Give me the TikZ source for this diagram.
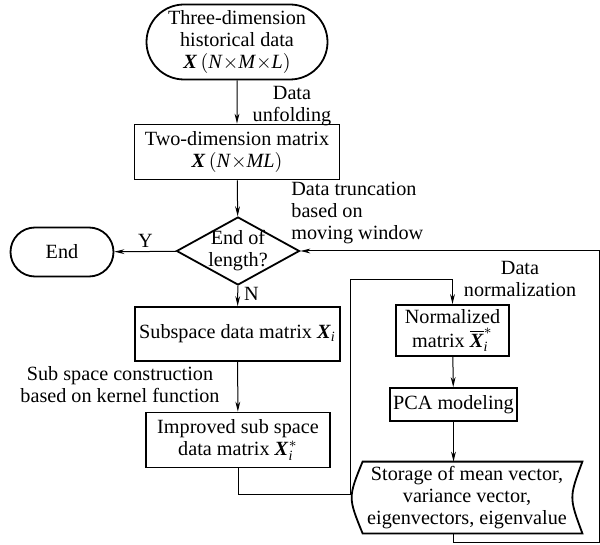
\documentclass[tikz,border=0pt]{standalone}
\usepackage{amsmath}
\usepackage{fontspec}
\setmainfont{Liberation Serif}
\usetikzlibrary{shapes.geometric,shapes.misc,arrows.meta}
\newcommand{\bX}{\text{\textbf{\textit{X}}}}
\newcommand{\ti}[1]{\text{\textit{#1}}}

\begin{document}
\begin{tikzpicture}[x=0.5pt,y=-0.5pt,
	font=\fontsize{10.1}{11}\selectfont,
	box/.style={draw,line width=0.9pt,align=center,inner sep=1pt},
	term/.style={box,rounded rectangle},
	lbl/.style={align=center,inner sep=0pt},
	flow/.style={-{Stealth[length=5pt,width=2.4pt]},line width=0.5pt}]
	\useasboundingbox (0,0) rectangle (600,545);
	% main column
	\node[term,minimum width=92.5pt,minimum height=37.5pt] (hist) at (237,42) {Three-dimension\\historical data\\$\bX\,(\ti{N}{\times}\ti{M}{\times}\ti{L})$};
	\node[box,minimum width=102.5pt,minimum height=27.5pt] (unf) at (237,152) {Two-dimension matrix\\$\bX\,(\ti{N}{\times}\ti{ML})$};
	\node[box,diamond,aspect=1.8,inner sep=-3pt,minimum width=61.5pt,minimum height=34pt] (len) at (238,251) {End of\\length?};
	\node[term,minimum width=53.5pt,minimum height=24.5pt] (fin) at (62,252) {End};
	\node[box,minimum width=102.5pt,minimum height=27pt] (sub) at (237.5,334) {Subspace data matrix $\bX_{\ti{i}}$};
	\node[box,minimum width=92pt,minimum height=27.5pt] (imp) at (238,440) {Improved sub space\\data matrix $\bX_{\ti{i}}^{*}$};
	% right column
	\node[box,minimum width=56.5pt,minimum height=25.5pt] (norm) at (452.5,330.5) {Normalized\\[1pt]matrix $\overline{\bX}_{\ti{i}}^{*}$};
	\node[box,minimum width=63.5pt,minimum height=16.5pt] (pca) at (453.5,404.5) {PCA modeling};
	\node[lbl,minimum width=115pt,minimum height=35.5pt] (st) at (467,497.5) {Storage of mean vector,\\variance vector,\\eigenvectors, eigenvalue};
	\draw[line width=0.9pt] ([xshift=5.5pt]st.north west) -- (st.north east)
		.. controls ([xshift=-6.7pt]st.east) .. (st.south east) -- ([xshift=5.5pt]st.south west)
		.. controls ([xshift=-1.8pt]st.west) .. cycle;
	% labels
	\node[lbl] (unfl) at (292,106) {Data\\unfolding};
	\node[lbl,align=left,anchor=west] (trunc) at (291,213) {Data truncation\\based on\\moving window};
	\node[lbl] (norml) at (520,279) {Data\\normalization};
	\node[lbl] (kern) at (120,385) {Sub space construction\\based on kernel function};
	% connectors
	\draw[flow] (hist) -- (unf);
	\draw[flow] (unf) -- (len);
	\draw[flow] (len) -- (fin) node[midway,above,inner sep=2pt]{Y};
	\draw[flow] (len) -- (sub) node[pos=0.4,right,inner sep=3pt]{N};
	\draw[flow] (sub) -- (imp);
	\draw[flow] (imp.south) -- ++(0,26) -| (350,280) -| (norm.north);
	\draw[flow] (norm) -- (pca);
	\draw[flow] (pca) -- (pca |- st.north);
	\coordinate (rt) at (599,542);
	\draw[flow] (st.south -| pca) |- (rt) |- (len.east);
\end{tikzpicture}
\end{document}
